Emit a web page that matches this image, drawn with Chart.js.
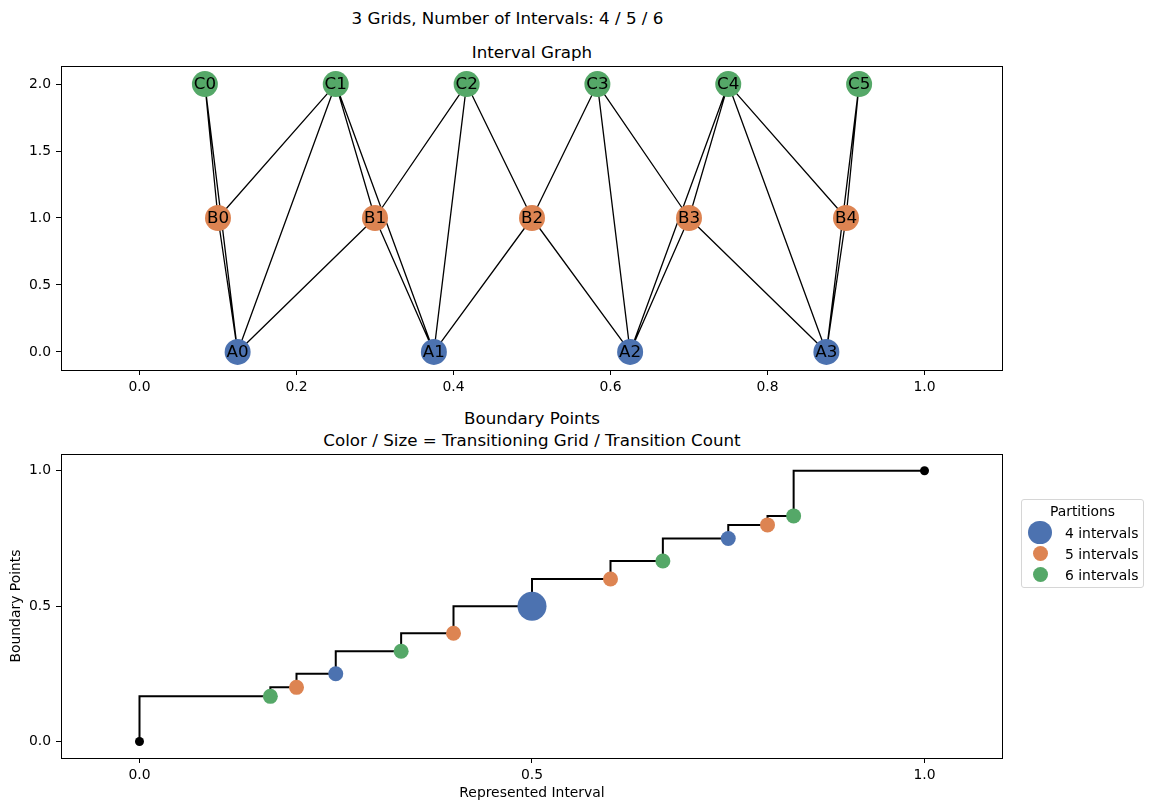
<!DOCTYPE html>
<html>
<head>
<meta charset="utf-8">
<script src="https://cdn.jsdelivr.net/npm/chart.js@4.4.1/dist/chart.umd.min.js"></script>
<style>
  body { margin: 0; background: #fff; font-family: "DejaVu Sans", sans-serif; color: #000; }
  #page { position: relative; width: 1158px; height: 811px; overflow: hidden; }
  .title { position: absolute; font-size: 16.7px; line-height: 20px; text-align: center; white-space: nowrap; }
  canvas { position: absolute; left: 0; }
  #legend { position: absolute; left: 1021px; top: 499px; width: 121px; height: 87px; border: 1px solid #d6d6d6; border-radius: 3px; font-size: 13.9px; }
  #legend .head { position: absolute; left: 0; width: 100%; top: 2px; text-align: center; line-height: 18px; }
  #legend .row { position: absolute; left: 0; width: 100%; height: 21px; }
  #legend .dot { position: absolute; border-radius: 50%; }
  #legend .label { position: absolute; left: 43px; top: 1px; line-height: 20px; white-space: nowrap; }
</style>
</head>
<body>
<div id="page">
  <div class="title" style="left:0; width:1015px; top:8px;">3 Grids, Number of Intervals: 4 / 5 / 6</div>
  <div class="title" style="left:61px; width:942px; top:42px;">Interval Graph</div>
  <div class="title" style="left:61px; width:942px; top:407px; line-height:22px;">Boundary Points<br>Color / Size = Transitioning Grid / Transition Count</div>
  <canvas id="graph-chart" width="1158" height="400" style="top:0"></canvas>
  <canvas id="boundary-chart" width="1158" height="411" style="top:400px"></canvas>
  <div id="legend"></div>
</div>
<script>
const A_NODES = ["A0", "A1", "A2", "A3"];
const A_X = [0.125, 0.375, 0.625, 0.875];
const B_NODES = ["B0", "B1", "B2", "B3", "B4"];
const B_X = [0.1, 0.3, 0.5, 0.7, 0.9];
const C_NODES = ["C0", "C1", "C2", "C3", "C4", "C5"];
const C_X = [0.0833, 0.25, 0.4167, 0.5833, 0.75, 0.9167];
const NODE_ROWS = [0, 1, 2];

const EDGES = [
  ["C0", "B0"], ["C0", "A0"], ["B0", "A0"],
  ["C1", "B0"], ["C1", "A0"], ["C1", "B1"], ["C1", "A1"],
  ["B1", "A0"], ["B1", "A1"],
  ["C2", "B1"], ["C2", "A1"], ["C2", "B2"],
  ["B2", "A1"], ["B2", "A2"],
  ["C3", "B2"], ["C3", "A2"], ["C3", "B3"],
  ["B3", "A2"], ["B3", "A3"],
  ["C4", "B3"], ["C4", "A2"], ["C4", "A3"], ["C4", "B4"],
  ["B4", "A3"],
  ["C5", "B4"], ["C5", "A3"]
];

const GRAPH_X_TICKS = [0.0, 0.2, 0.4, 0.6, 0.8, 1.0];
const GRAPH_Y_TICKS = [0.0, 0.5, 1.0, 1.5, 2.0];

const BOUNDARY_X = [0, 0.1667, 0.2, 0.25, 0.3333, 0.4, 0.5, 0.6, 0.6667, 0.75, 0.8, 0.8333, 1];
const BOUNDARY_Y = [0, 0.1667, 0.2, 0.25, 0.3333, 0.4, 0.5, 0.6, 0.6667, 0.75, 0.8, 0.8333, 1];
const BOUNDARY_GRID = [null, 6, 5, 4, 6, 5, 4, 5, 6, 4, 5, 6, null];
const TRANSITION_COUNT = [0, 1, 1, 1, 1, 1, 2, 1, 1, 1, 1, 1, 0];

const BOUNDARY_X_TICKS = [0.0, 0.5, 1.0];
const BOUNDARY_Y_TICKS = [0.0, 0.5, 1.0];

const GRIDS = [4, 5, 6];
const GRID_NAMES = ["4 intervals", "5 intervals", "6 intervals"];

const BLUE = "#4c72b0";
const ORANGE = "#dd8452";
const GREEN = "#55a868";
const GRID_COLORS = [BLUE, ORANGE, GREEN];
const TICK_FONT = { family: "DejaVu Sans", size: 13.9 };

function gridColor(grid) {
  return grid === null ? "#000" : GRID_COLORS[GRIDS.indexOf(grid)];
}

function countRadius(count) {
  return [4.5, 7.5, 14.5][count];
}

const framePlugin = {
  id: "frame",
  afterDraw(chart) {
    const { ctx, chartArea } = chart;
    ctx.save();
    ctx.strokeStyle = "#000";
    ctx.lineWidth = 1;
    ctx.strokeRect(chartArea.left + 0.5, chartArea.top + 0.5, chartArea.width - 1, chartArea.height);
    ctx.restore();
  }
};

const nodeLabelPlugin = {
  id: "nodeLabels",
  afterDatasetsDraw(chart) {
    const ctx = chart.ctx;
    ctx.save();
    ctx.font = "16.7px 'DejaVu Sans'";
    ctx.fillStyle = "#000";
    ctx.textAlign = "center";
    ctx.textBaseline = "middle";
    chart.data.datasets.forEach((ds, i) => {
      if (!ds.nodeNames) return;
      chart.getDatasetMeta(i).data.forEach((pt, j) => ctx.fillText(ds.nodeNames[j], pt.x, pt.y + 1));
    });
    ctx.restore();
  }
};

function axis(min, max, tickValues, size, horizontal, title) {
  return {
    type: "linear",
    min: min,
    max: max,
    afterBuildTicks: scale => { scale.ticks = tickValues.map(value => ({ value: value })); },
    afterFit: scale => {
      if (horizontal) scale.height = size; else scale.width = size;
    },
    grid: { drawOnChartArea: false, drawTicks: true, tickLength: 5, color: "#000" },
    border: { display: false },
    ticks: {
      font: TICK_FONT,
      color: "#000",
      padding: horizontal ? 4 : 5,
      maxRotation: 0,
      autoSkip: false,
      callback: value => value.toFixed(1)
    },
    title: title ? {
      display: true,
      text: title,
      font: TICK_FONT,
      color: "#000",
      padding: horizontal ? { top: 0, bottom: 9 } : { top: 8, bottom: 0 }
    } : { display: false }
  };
}

function nodePoints(xs, row) {
  return xs.map(x => ({ x: x, y: NODE_ROWS[row] }));
}

function nodePosition(name) {
  var groups = [[A_NODES, A_X], [B_NODES, B_X], [C_NODES, C_X]];
  for (var row = 0; row < groups.length; row++) {
    var idx = groups[row][0].indexOf(name);
    if (idx >= 0) return { x: groups[row][1][idx], y: NODE_ROWS[row] };
  }
}

function edgePoints() {
  var points = [];
  for (const edge of EDGES) {
    var a = nodePosition(edge[0]);
    var b = nodePosition(edge[1]);
    points.push(a, b, { x: b.x, y: null });
  }
  return points;
}

function nodeDataset(names, xs, row, color) {
  return {
    type: "scatter",
    data: nodePoints(xs, row),
    nodeNames: names,
    pointRadius: 13,
    pointBackgroundColor: color,
    pointBorderWidth: 0,
    order: 0
  };
}

function buildGraphChart() {
  new Chart("graph-chart", {
    type: "scatter",
    data: {
      datasets: [
        nodeDataset(A_NODES, A_X, 0, BLUE),
        nodeDataset(B_NODES, B_X, 1, ORANGE),
        nodeDataset(C_NODES, C_X, 2, GREEN),
        {
          type: "line",
          data: edgePoints(),
          borderColor: "#000",
          borderWidth: 1.3,
          pointRadius: 0,
          spanGaps: false,
          fill: false,
          order: 1
        }
      ]
    },
    options: {
      responsive: false,
      animation: false,
      events: [],
      layout: { padding: { left: 0, top: 66, right: 155, bottom: 0 } },
      plugins: { legend: { display: false }, tooltip: { enabled: false } },
      scales: {
        x: axis(-0.1, 1.1, GRAPH_X_TICKS, 30, true, null),
        y: axis(-0.135, 2.135, GRAPH_Y_TICKS, 61, false, null)
      }
    },
    plugins: [framePlugin, nodeLabelPlugin]
  });
}

function buildBoundaryChart() {
  var points = BOUNDARY_X.map((x, i) => ({ x: x, y: BOUNDARY_Y[i] }));

  new Chart("boundary-chart", {
    type: "scatter",
    data: {
      datasets: [
        {
          data: points,
          pointRadius: TRANSITION_COUNT.map(countRadius),
          pointBackgroundColor: BOUNDARY_GRID.map(gridColor),
          pointBorderWidth: 0,
          order: 0
        },
        {
          type: "line",
          data: points,
          stepped: "after",
          borderColor: "#000",
          borderWidth: 2,
          pointRadius: 0,
          fill: false,
          order: 1
        }
      ]
    },
    options: {
      responsive: false,
      animation: false,
      events: [],
      layout: { padding: { left: 0, top: 54, right: 155, bottom: 0 } },
      plugins: { legend: { display: false }, tooltip: { enabled: false } },
      scales: {
        x: axis(-0.1, 1.1, BOUNDARY_X_TICKS, 53, true, "Represented Interval"),
        y: axis(-0.061, 1.062, BOUNDARY_Y_TICKS, 61, false, "Boundary Points")
      }
    },
    plugins: [framePlugin]
  });
}

function buildLegend() {
  var legend = document.getElementById("legend");
  var head = document.createElement("div");
  head.classList.add("head");
  head.innerText = "Partitions";
  legend.append(head);

  var radii = [11.7, 7.5, 7.5];
  GRIDS.forEach((grid, i) => {
    var row = document.createElement("div");
    row.classList.add("row");
    row.style.top = `${22 + i * 21}px`;

    var dot = document.createElement("div");
    dot.classList.add("dot");
    dot.style.background = GRID_COLORS[i];
    dot.style.width = dot.style.height = `${radii[i] * 2}px`;
    dot.style.left = `${18 - radii[i]}px`;
    dot.style.top = `${10.5 - radii[i]}px`;

    var label = document.createElement("div");
    label.classList.add("label");
    label.innerText = GRID_NAMES[i];

    row.append(dot, label);
    legend.append(row);
  });
}

buildGraphChart();
buildBoundaryChart();
buildLegend();
</script>
</body>
</html>
